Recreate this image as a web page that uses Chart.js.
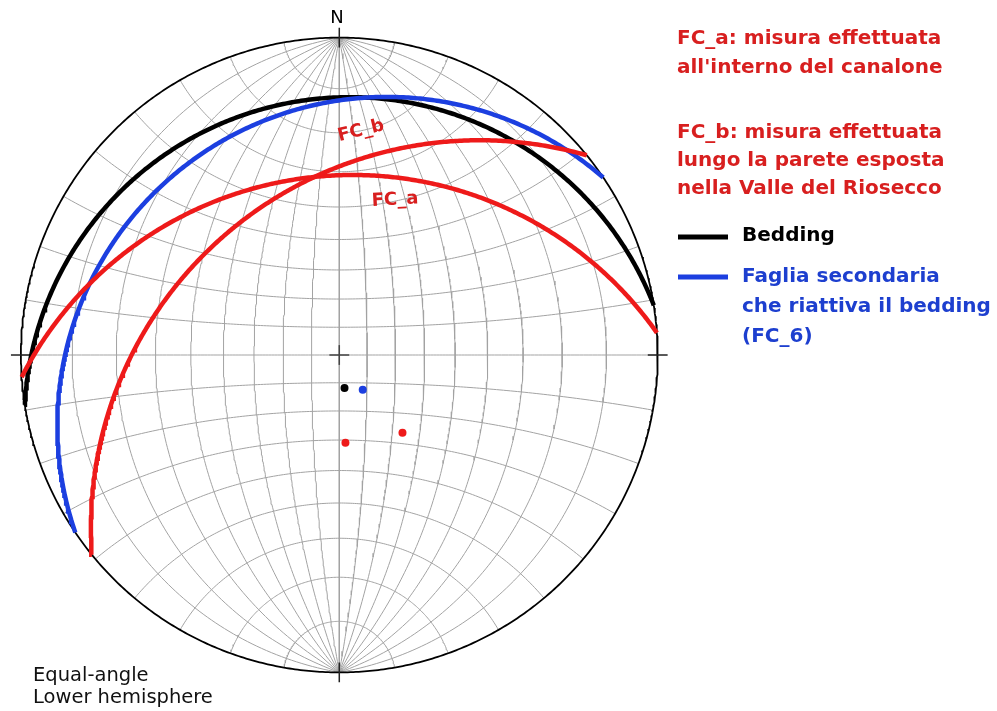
<!DOCTYPE html>
<html>
<head>
<meta charset="utf-8">
<script src="https://cdn.jsdelivr.net/npm/chart.js@4/dist/chart.umd.min.js"></script>
<style>
  body { margin: 0; background: #fff; }
  #wrap { width: 997px; height: 711px; }
</style>
</head>
<body>
<div id="wrap"><canvas id="net" width="997" height="711"></canvas></div>
<script>
// planes read from the net (dip direction / dip, degrees)
const planeNames = ['Bedding', 'Faglia secondaria (FC_6)', 'FC_a', 'FC_b'];
const planeDipDir = [351, 326, 356, 321];
const planeDip = [12, 15, 31, 35];
const planeColors = ['#000000', '#1c3fe0', '#ee1a1a', '#ee1a1a'];

// net grid spacing (degrees)
const gridStep = 10;

const redText = '#d81f1f';
const blueText = '#1d3fcf';

const D2R = Math.PI / 180;

// equal-angle (Wulff), lower hemisphere
function project(trend, plunge) {
    var r = Math.tan(Math.PI / 4 - plunge * D2R / 2);
    return { x: r * Math.sin(trend * D2R), y: r * Math.cos(trend * D2R) };
}

function vecToPoint(v) {
    var plunge = Math.asin(Math.max(-1, Math.min(1, v[2]))) / D2R;
    var trend = Math.atan2(v[0], v[1]) / D2R;
    return project(trend, plunge);
}

function greatCircle(dd, dip, step = 0.5) {
    var s = (dd - 90) * D2R, d = dd * D2R, p = dip * D2R;
    var sv = [Math.sin(s), Math.cos(s), 0];
    var dv = [Math.sin(d) * Math.cos(p), Math.cos(d) * Math.cos(p), Math.sin(p)];
    var pts = [];
    for (var t = 0; t <= 180 + 1e-9; t += step) {
        var c = Math.cos(t * D2R), sn = Math.sin(t * D2R);
        pts.push(vecToPoint([c * sv[0] + sn * dv[0], c * sv[1] + sn * dv[1], c * sv[2] + sn * dv[2]]));
    }
    return pts;
}

// cone of half angle a around the N-S horizontal axis
function smallCircle(a, step = 1) {
    var pts = [];
    var ca = Math.cos(a * D2R), sa = Math.sin(a * D2R);
    for (var f = 0; f <= 180 + 1e-9; f += step) {
        var cf = Math.cos(f * D2R), sf = Math.sin(f * D2R);
        pts.push(vecToPoint([sa * cf, ca, sa * sf]));
    }
    return pts;
}

function lineSet(data, color, width, order) {
    return {
        data: data, showLine: true, borderColor: color, borderWidth: width,
        pointRadius: 0, tension: 0, fill: false, order: order, borderCapStyle: 'butt'
    };
}

var datasets = [];

// grid: meridians
for (var dip = gridStep; dip <= 90; dip += gridStep) {
    datasets.push(lineSet(greatCircle(90, dip, 1), '#a3a3a3', 1, 100));
    if (dip < 90) datasets.push(lineSet(greatCircle(270, dip, 1), '#a3a3a3', 1, 100));
}
// grid: small circles
for (var a = gridStep; a < 180; a += gridStep) {
    datasets.push(lineSet(smallCircle(a), '#a3a3a3', 1, 100));
}

// primitive
var prim = [];
for (var t = 0; t <= 360; t += 0.5) prim.push(project(t, 0));
datasets.push(lineSet(prim, '#000000', 1.8, 50));

// ticks at N E S W and the centre cross
var tk = 10 / 321;
[[0, 1], [1, 0], [0, -1], [-1, 0]].forEach(function (d) {
    datasets.push(lineSet([{ x: d[0] * (1 - tk), y: d[1] * (1 - tk) }, { x: d[0] * (1 + tk), y: d[1] * (1 + tk) }], '#222', 1.5, 40));
});
datasets.push(lineSet([{ x: -tk, y: 0 }, { x: tk, y: 0 }], '#444', 1.5, 40));
datasets.push(lineSet([{ x: 0, y: -tk }, { x: 0, y: tk }], '#444', 1.5, 40));

// the planes
for (var i = 0; i < planeDipDir.length; i++) {
    datasets.push(lineSet(greatCircle(planeDipDir[i], planeDip[i]), planeColors[i], 4.5, 20 - i));
}
// poles
for (var i = 0; i < planeDipDir.length; i++) {
    datasets.push({
        data: [project(planeDipDir[i] + 180, 90 - planeDip[i])],
        showLine: false, pointRadius: 4, pointBorderWidth: 0,
        backgroundColor: planeColors[i], borderColor: planeColors[i], order: 0
    });
}

const cx = 338, cy = 355, R = 321, W = 997, H = 711;

const labelsPlugin = {
    id: 'netLabels',
    afterDraw: function (chart) {
        var ctx = chart.ctx;
        ctx.save();
        ctx.textBaseline = 'middle';
        ctx.textAlign = 'center';
        ctx.fillStyle = '#000';
        ctx.font = '18px "DejaVu Sans"';
        ctx.fillText('N', 337, 18);

        ctx.textAlign = 'left';
        ctx.textBaseline = 'alphabetic';
        ctx.font = '19.5px "DejaVu Sans"';
        ctx.fillStyle = '#111';
        ctx.fillText('Equal-angle', 33, 681);
        ctx.fillText('Lower hemisphere', 33, 703);

        // curve labels
        ctx.font = 'bold 18px "DejaVu Sans"';
        ctx.fillStyle = redText;
        ctx.textAlign = 'center';
        ctx.textBaseline = 'middle';
        ctx.save();
        ctx.translate(361, 131);
        ctx.rotate(-14 * D2R);
        ctx.fillText('FC_b', 0, 0);
        ctx.restore();
        ctx.save();
        ctx.translate(395, 200);
        ctx.rotate(-3 * D2R);
        ctx.fillText('FC_a', 0, 0);
        ctx.restore();

        // legend
        ctx.textAlign = 'left';
        ctx.font = 'bold 20px "DejaVu Sans"';
        ctx.fillStyle = redText;
        ctx.fillText('FC_a: misura effettuata', 677, 39);
        ctx.fillText("all'interno del canalone", 677, 68);
        ctx.fillText('FC_b: misura effettuata', 677, 133);
        ctx.fillText('lungo la parete esposta', 677, 161);
        ctx.fillText('nella Valle del Riosecco', 677, 189);

        ctx.lineWidth = 5;
        ctx.strokeStyle = planeColors[0];
        ctx.beginPath(); ctx.moveTo(678, 237); ctx.lineTo(728, 237); ctx.stroke();
        ctx.strokeStyle = planeColors[1];
        ctx.beginPath(); ctx.moveTo(678, 277); ctx.lineTo(728, 277); ctx.stroke();

        ctx.fillStyle = '#000';
        ctx.fillText('Bedding', 742, 236);
        ctx.fillStyle = blueText;
        ctx.fillText('Faglia secondaria', 742, 277);
        ctx.fillText('che riattiva il bedding', 742, 307);
        ctx.fillText('(FC_6)', 742, 337);
        ctx.restore();
    }
};

new Chart(document.getElementById('net'), {
    type: 'scatter',
    data: { datasets: datasets },
    options: {
        responsive: false,
        animation: false,
        events: [],
        layout: { padding: 0 },
        scales: {
            x: { type: 'linear', display: false, min: -cx / R, max: (W - cx) / R },
            y: { type: 'linear', display: false, min: -(H - cy) / R, max: cy / R }
        },
        plugins: {
            legend: { display: false },
            tooltip: { enabled: false }
        }
    },
    plugins: [labelsPlugin]
});
</script>
</body>
</html>
